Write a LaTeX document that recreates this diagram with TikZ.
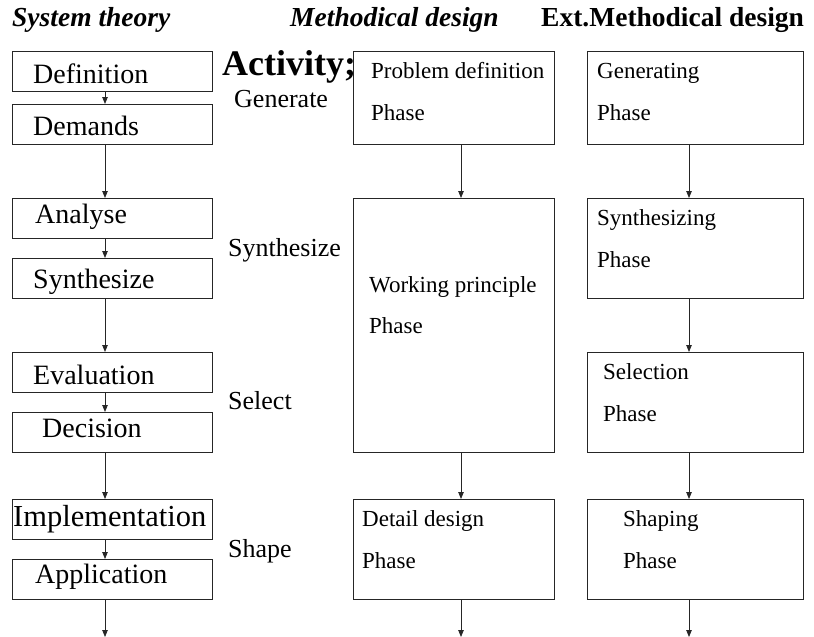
\documentclass[tikz,border=0pt]{standalone}
\usepackage{fontspec}
\setmainfont{Liberation Serif}
\usetikzlibrary{arrows.meta}
\newcommand{\bx}[5]{\node[box,minimum width={(#4-#2)*1pt},minimum height={(#5-#3)*1pt}] (#1) at (#2,#3) {};}
\tikzset{
 box/.style={draw=black!85, line width=0.8pt, inner sep=0pt, outer sep=0pt, anchor=north west},
 arr/.style={draw=black!85, line width=0.8pt, -{Triangle[width=5.5pt,length=7pt]}},
 hdr/.style={font=\fontsize{27.5}{30}\selectfont\bfseries\itshape, anchor=base west, inner sep=0pt},
 hdrb/.style={font=\fontsize{27.5}{30}\selectfont\bfseries, anchor=base west, inner sep=0pt},
 lab/.style={font=\fontsize{28}{30}\selectfont, anchor=base west, inner sep=0pt},
 act/.style={font=\fontsize{26}{28}\selectfont, anchor=base west, inner sep=0pt},
 actb/.style={font=\fontsize{36}{38}\selectfont\bfseries, anchor=base west, inner sep=0pt},
 ph/.style={font=\fontsize{23}{25}\selectfont, anchor=base west, inner sep=0pt},
}
\begin{document}
\begin{tikzpicture}[x=1pt,y=-1pt]
\useasboundingbox (0,0) rectangle (814,637);
% headers
\node[hdr] (h1) at (12,27) {System theory};
\node[hdr] (h2) at (290,27) {Methodical design};
\node[hdrb] (h3) at (541,27) {Ext.Methodical design};
% left column boxes
\bx{def}{12}{51}{212}{91}
\bx{dem}{12}{104}{212}{144}
\bx{ana}{12}{198}{212}{238}
\bx{syn}{12}{258}{212}{298}
\bx{eva}{12}{352}{212}{392}
\bx{dec}{12}{412}{212}{452}
\bx{imp}{12}{499}{212}{539}
\bx{app}{12}{559}{212}{599}
\node[lab] (tdef) at (33,83) {Definition};
\node[lab] (tdem) at (33,135) {Demands};
\node[lab] (tana) at (35,223) {Analyse};
\node[lab] (tsyn) at (33,288) {Synthesize};
\node[lab] (teva) at (33,384) {Evaluation};
\node[lab] (tdec) at (42,437) {Decision};
\node[lab,font=\fontsize{30.5}{32}\selectfont] (timp) at (13,526) {Implementation};
\node[lab] (tapp) at (35,583) {Application};
% activities
\node[actb] (act) at (222,75) {Activity;};
\node[act] (ag) at (234,107) {Generate};
\node[act] (as) at (228,256) {Synthesize};
\node[act] (asl) at (228,409) {Select};
\node[act] (ash) at (228,557) {Shape};
% middle column
\bx{pd}{353}{51}{554}{144}
\bx{wp}{353}{198}{554}{452}
\bx{dd}{353}{499}{554}{599}
\node[ph] (tpd) at (371,78) {Problem definition};
\node[ph] (tpd2) at (371,120) {Phase};
\node[ph] (twp) at (369,292) {Working principle};
\node[ph] (twp2) at (369,333) {Phase};
\node[ph] (tdd) at (362,526) {Detail design};
\node[ph] (tdd2) at (362,568) {Phase};
% right column
\bx{gen}{587}{51}{803}{144}
\bx{sz}{587}{198}{803}{298}
\bx{sel}{587}{352}{803}{452}
\bx{sha}{587}{499}{803}{599}
\node[ph] (tgen) at (597,78) {Generating};
\node[ph] (tgen2) at (597,120) {Phase};
\node[ph] (tsz) at (597,225) {Synthesizing};
\node[ph] (tsz2) at (597,267) {Phase};
\node[ph] (tsel) at (603,379) {Selection};
\node[ph] (tsel2) at (603,421) {Phase};
\node[ph] (tsha) at (623,526) {Shaping};
\node[ph] (tsha2) at (623,568) {Phase};
% arrow columns
\coordinate (ax) at (105,0);
\coordinate (bx) at (461,0);
\coordinate (cx) at (689,0);
\coordinate (aend) at (105,637);
\coordinate (bend) at (461,637);
\coordinate (cend) at (689,637);
\draw[arr] (def.south -| ax) -- (dem.north -| ax);
\draw[arr] (dem.south -| ax) -- (ana.north -| ax);
\draw[arr] (ana.south -| ax) -- (syn.north -| ax);
\draw[arr] (syn.south -| ax) -- (eva.north -| ax);
\draw[arr] (eva.south -| ax) -- (dec.north -| ax);
\draw[arr] (dec.south -| ax) -- (imp.north -| ax);
\draw[arr] (imp.south -| ax) -- (app.north -| ax);
\draw[arr] (app.south -| ax) -- (aend);
\draw[arr] (pd.south -| bx) -- (wp.north -| bx);
\draw[arr] (wp.south -| bx) -- (dd.north -| bx);
\draw[arr] (dd.south -| bx) -- (bend);
\draw[arr] (gen.south -| cx) -- (sz.north -| cx);
\draw[arr] (sz.south -| cx) -- (sel.north -| cx);
\draw[arr] (sel.south -| cx) -- (sha.north -| cx);
\draw[arr] (sha.south -| cx) -- (cend);
\end{tikzpicture}
\end{document}
